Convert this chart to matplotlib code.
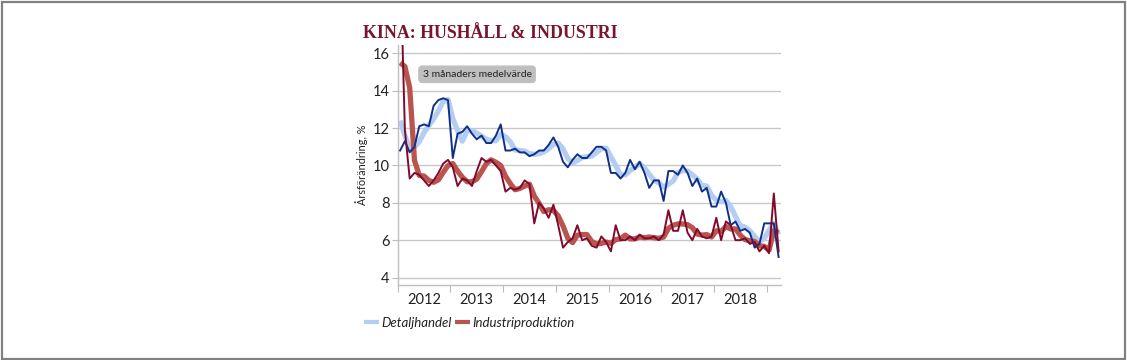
import numpy as np
import matplotlib
matplotlib.use("Agg")
import matplotlib.pyplot as plt
from matplotlib.lines import Line2D
from matplotlib.patches import Rectangle

# ---- data ----
years = [2012, 2013, 2014, 2015, 2016, 2017, 2018]
months_full = ["Jan-Feb", "Mar", "Apr", "May", "Jun", "Jul", "Aug", "Sep", "Oct", "Nov", "Dec"]
months_2019 = ["Jan-Feb", "Mar", "Apr"]
periods = [f"{y} {m}" for y in years for m in months_full] + [f"2019 {m}" for m in months_2019]

retail = [10.8, 11.3, 10.7, 11.0, 12.1, 12.2, 12.1, 13.2, 13.5, 13.6, 13.5,
          10.4, 11.7, 11.8, 12.1, 11.7, 11.4, 11.6, 11.2, 11.2, 11.6, 12.2,
          10.8, 10.8, 10.9, 10.7, 10.7, 10.5, 10.6, 10.8, 10.8, 11.1, 11.5,
          11.0, 10.2, 9.9, 10.3, 10.6, 10.4, 10.4, 10.7, 11.0, 11.0, 10.8,
          9.6, 9.6, 9.3, 9.6, 10.3, 9.8, 10.2, 9.6, 8.8, 9.2, 9.2,
          8.1, 9.7, 9.7, 9.5, 10.0, 9.6, 8.9, 9.3, 8.6, 8.8, 7.8,
          7.8, 8.6, 8.0, 6.8, 7.0, 6.5, 6.6, 6.4, 5.6, 5.8, 6.9,
          6.9, 6.9, 5.1]

retail_3m = [12.4, 11.6, 10.93, 11.0, 11.27, 11.77, 12.13, 12.5, 12.93, 13.43, 13.53,
             12.5, 11.87, 11.3, 11.87, 11.87, 11.73, 11.57, 11.4, 11.33, 11.33, 11.67,
             11.53, 11.27, 10.83, 10.8, 10.77, 10.63, 10.6, 10.63, 10.73, 10.9, 11.13,
             11.2, 10.9, 10.37, 10.13, 10.27, 10.43, 10.47, 10.5, 10.7, 10.9, 10.93,
             10.47, 10.0, 9.5, 9.5, 9.73, 9.9, 10.1, 9.87, 9.53, 9.2, 9.07,
             8.83, 9.0, 9.17, 9.63, 9.73, 9.7, 9.5, 9.27, 8.93, 8.9, 8.4,
             8.13, 8.07, 8.13, 7.8, 7.27, 6.77, 6.7, 6.5, 6.2, 5.93, 6.1,
             6.53, 6.9, 6.3]

industry = [21.3, 11.9, 9.3, 9.6, 9.5, 9.2, 8.9, 9.2, 9.6, 10.1, 10.3,
            9.9, 8.9, 9.3, 9.2, 8.9, 9.7, 10.4, 10.2, 10.3, 10.0, 9.7,
            8.6, 8.8, 8.7, 8.8, 9.2, 9.0, 6.9, 8.0, 7.7, 7.2, 7.9,
            6.8, 5.6, 5.9, 6.1, 6.8, 6.0, 6.1, 5.7, 5.6, 6.2, 5.9,
            5.4, 6.8, 6.0, 6.0, 6.2, 6.0, 6.3, 6.1, 6.1, 6.2, 6.0,
            6.3, 7.6, 6.5, 6.5, 7.6, 6.4, 6.0, 6.6, 6.2, 6.1, 6.2,
            7.2, 6.0, 7.0, 6.8, 6.0, 6.0, 6.1, 5.8, 5.9, 5.4, 5.7,
            5.3, 8.5, 5.4]

industry_3m = [15.5, 15.3, 14.17, 10.27, 9.47, 9.43, 9.2, 9.1, 9.23, 9.63, 10.0,
               10.1, 9.7, 9.37, 9.13, 9.13, 9.27, 9.67, 10.1, 10.3, 10.17, 10.0,
               9.43, 9.03, 8.7, 8.77, 8.9, 9.0, 8.37, 7.97, 7.53, 7.63, 7.6,
               7.3, 6.77, 6.1, 5.87, 6.27, 6.3, 6.3, 5.93, 5.8, 5.83, 5.9,
               5.83, 6.03, 6.07, 6.27, 6.07, 6.07, 6.17, 6.13, 6.17, 6.13, 6.1,
               6.17, 6.63, 6.8, 6.87, 6.87, 6.83, 6.67, 6.33, 6.27, 6.3, 6.17,
               6.5, 6.47, 6.73, 6.6, 6.6, 6.27, 6.03, 5.97, 5.93, 5.7, 5.67,
               5.47, 6.5, 6.4]

yticks = [4, 6, 8, 10, 12, 14, 16]
year_labels = ["2012", "2013", "2014", "2015", "2016", "2017", "2018"]

title = "KINA: HUSHÅLL & INDUSTRI"
ylabel = "Årsförändring, %"
note = "3 månaders medelvärde"
legend_labels = ["Detaljhandel", "Industriproduktion"]

# ---- styling ----
C_LBLUE = "#b3cdf3"
C_NAVY = "#0f2f8a"
C_RED_THICK = "#b9544e"
C_MAROON = "#7f0a2c"
C_TITLE = "#7a1530"
C_GRID = "#c8c8c8"
FONT = ["Lato", "DejaVu Sans"]

W, H = 1127, 360
fig = plt.figure(figsize=(W / 100, H / 100), dpi=100)
fig.patch.set_facecolor("white")

# outer border
fig.add_artist(Rectangle((1.5 / W, 1.5 / H), 1 - 3.5 / W, 1 - 3.5 / H, transform=fig.transFigure,
                         fill=False, edgecolor="#808080", linewidth=1.6))

ax = fig.add_axes([397.7 / W, 1 - 285 / H, (781 - 397.7) / W, (285 - 45) / H])
x = np.arange(len(periods))

ax.plot(x, retail_3m, color=C_LBLUE, lw=3.8, solid_capstyle="butt", zorder=2)
ax.plot(x, industry_3m, color=C_RED_THICK, lw=3.8, solid_capstyle="butt", zorder=2)
ax.plot(x, retail, color=C_NAVY, lw=1.4, zorder=3)
ax.plot(x, industry, color=C_MAROON, lw=1.4, zorder=3)

ax.set_ylim(3.6, 16.45)
ax.set_xlim(-0.5, len(periods) - 0.5)
ax.set_yticks(yticks)
ax.set_yticklabels([str(v) for v in yticks], fontsize=10.5, family=FONT, color="#222222")
ax.yaxis.grid(True, color=C_GRID, lw=1.0, zorder=0)
ax.set_axisbelow(True)

n_per_year = len(months_full)
ax.set_xticks([k * n_per_year - 0.5 for k in range(len(years) + 1)])
ax.set_xticklabels([])
ax.set_xticks([k * n_per_year + (n_per_year - 1) / 2 for k in range(len(years))], minor=True)
ax.set_xticklabels(year_labels, minor=True, fontsize=10.5, family=FONT, color="#222222")
ax.tick_params(axis="x", which="minor", length=0, pad=6)
ax.tick_params(axis="x", which="major", length=5, color="#bbbbbb", direction="out")
ax.tick_params(axis="y", length=4, color="#bbbbbb", pad=2)

for s in ["top", "right"]:
    ax.spines[s].set_visible(False)
for s in ["left", "bottom"]:
    ax.spines[s].set_color("#c0c0c0")
    ax.spines[s].set_linewidth(1.0)

ax.set_ylabel(ylabel, fontsize=7.8, family=FONT, color="#222222", labelpad=3)

# note box
ax.text(0.207, 0.878, note, transform=ax.transAxes, fontsize=7.5, family=FONT, color="#222222",
        ha="center", va="center",
        bbox=dict(boxstyle="round,pad=0.35,rounding_size=0.3", facecolor="#bfbfbf", edgecolor="#bfbfbf"))

# title
fig.text(363 / W, 1 - 34 / H, title, fontsize=12.9, fontweight="bold",
         family=["Liberation Serif", "DejaVu Serif"], color=C_TITLE, ha="left", va="center")

# legend
handles = [Line2D([0], [0], color=C_LBLUE, lw=3.0, solid_capstyle="butt"),
           Line2D([0], [0], color=C_RED_THICK, lw=3.0, solid_capstyle="butt")]
leg = fig.legend(handles, legend_labels, loc="center left", bbox_to_anchor=(352 / W, 1 - 323 / H),
                 ncol=2, frameon=False, handlelength=1.15, handletextpad=0.15, columnspacing=0.25,
                 prop={"family": FONT, "style": "italic", "size": 9.5})
for t in leg.get_texts():
    t.set_color("#222222")

fig.savefig("out.png", dpi=100, facecolor="white")
